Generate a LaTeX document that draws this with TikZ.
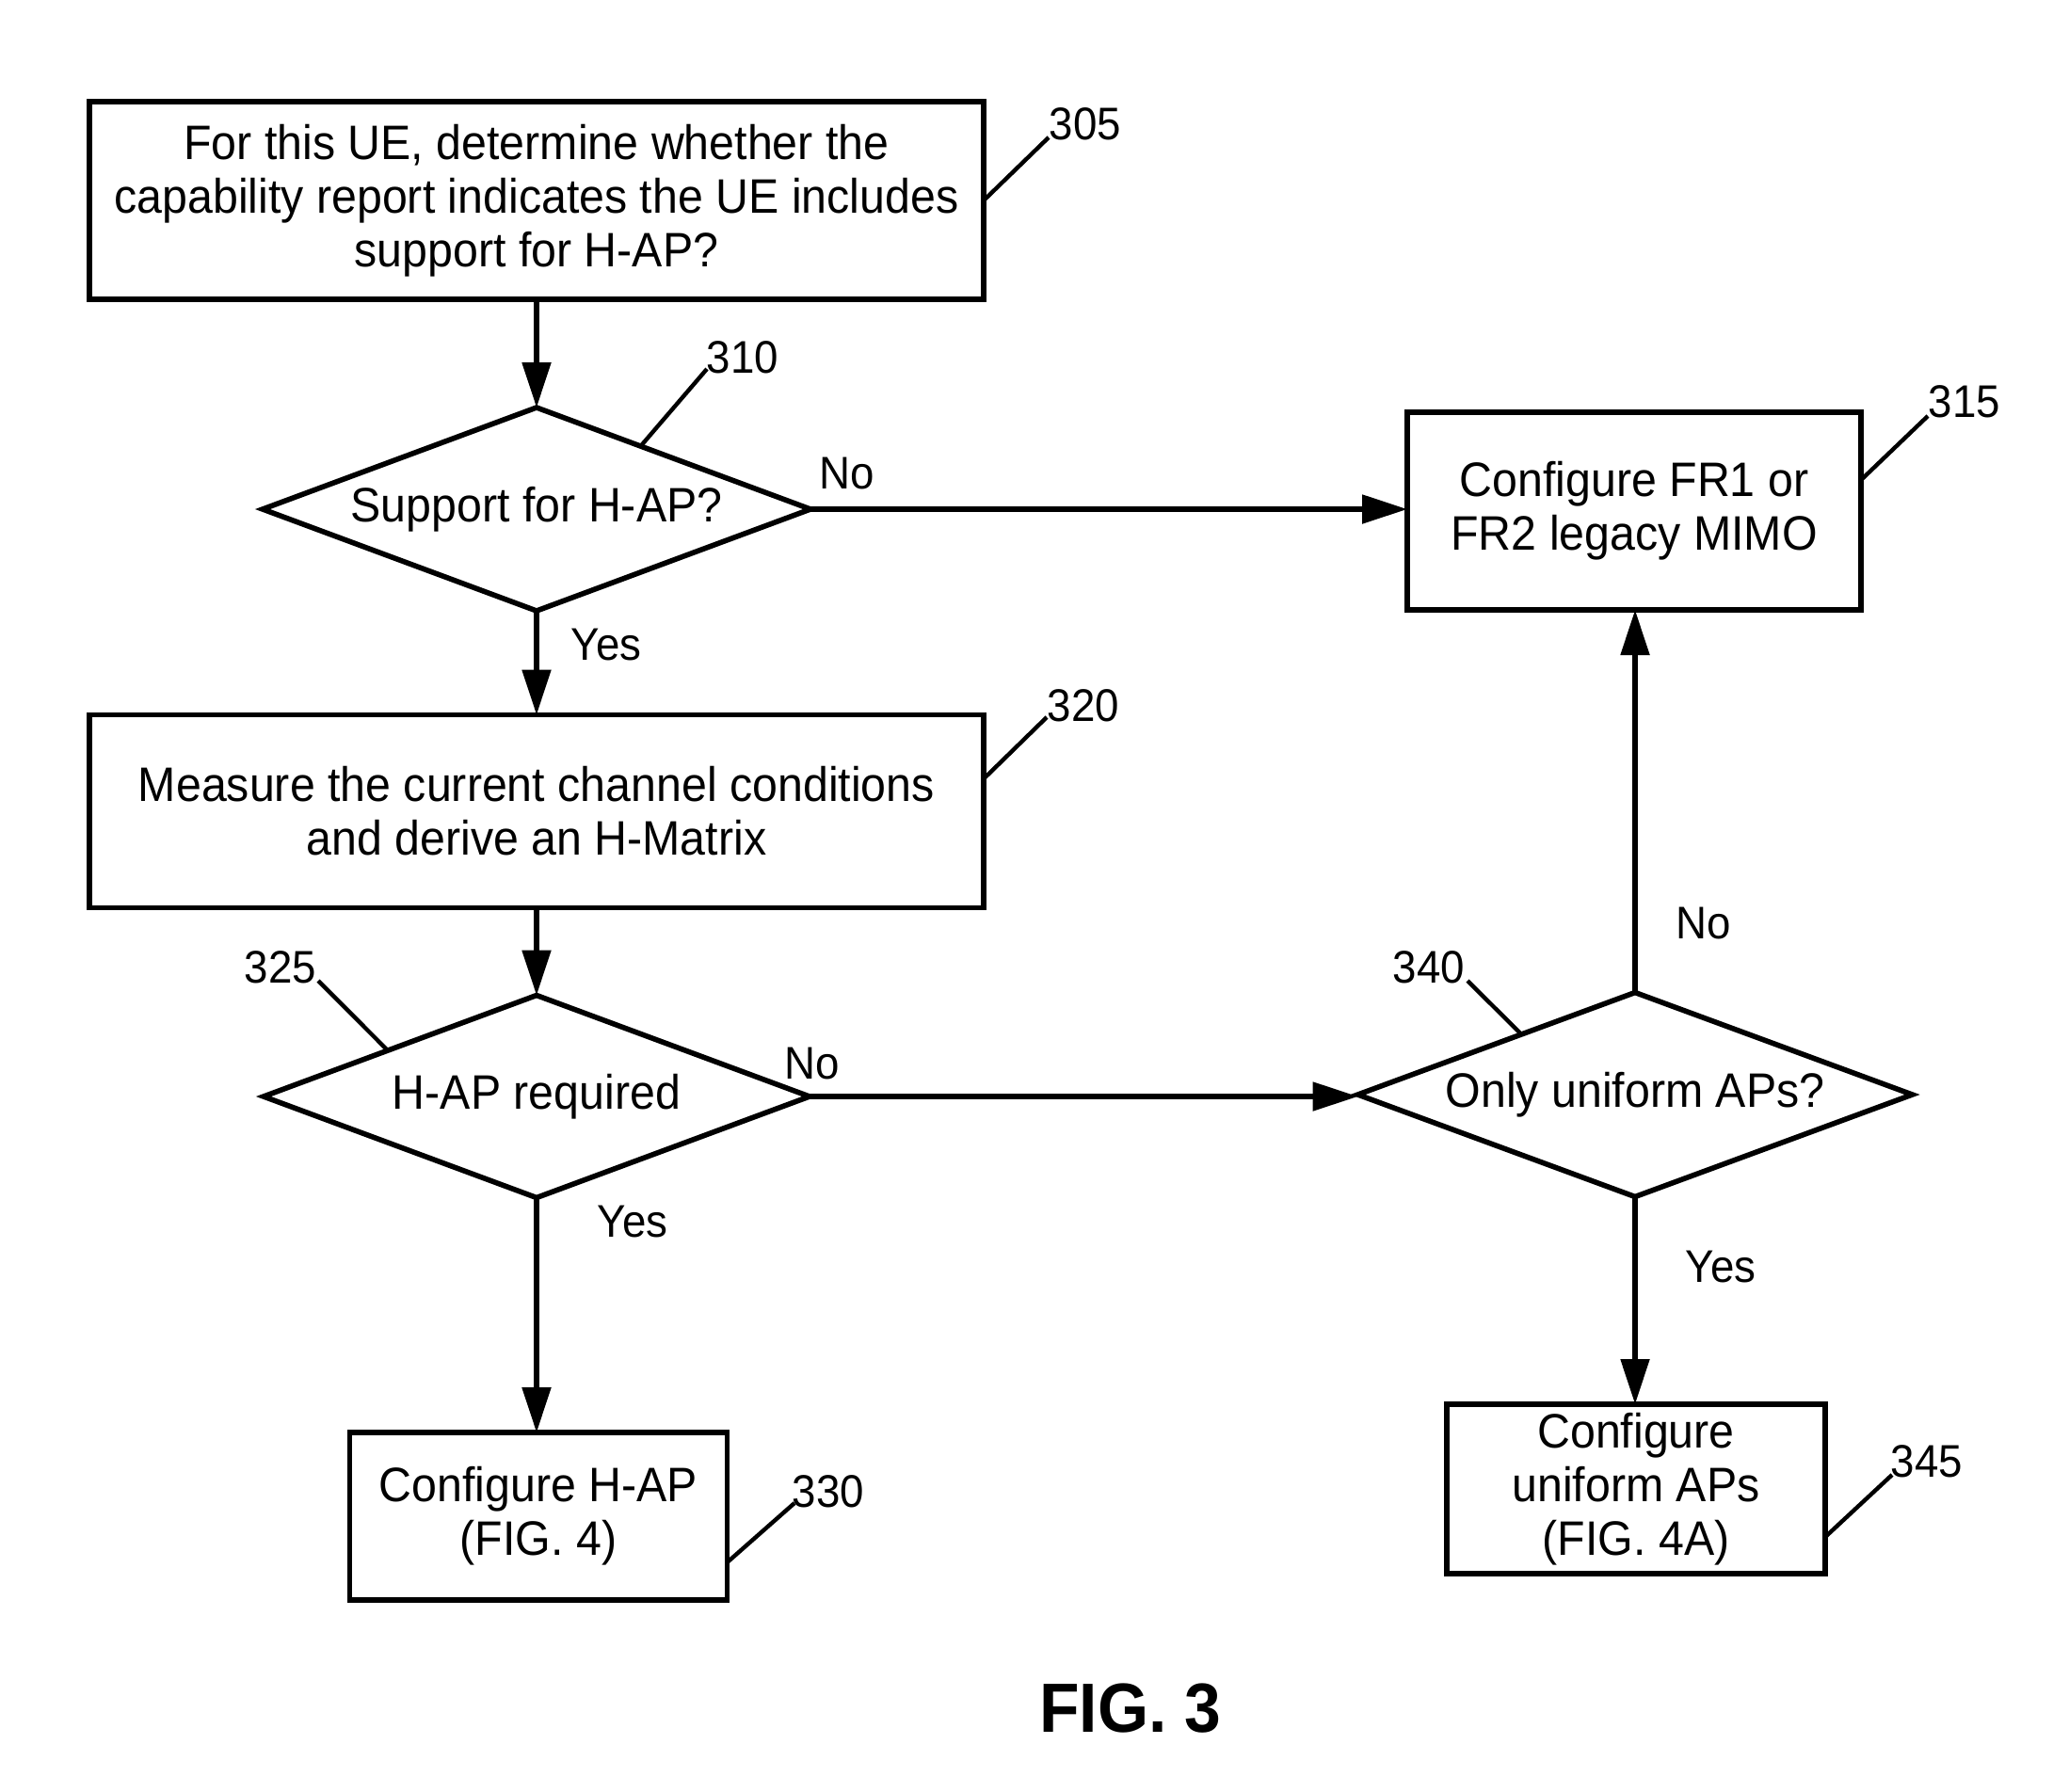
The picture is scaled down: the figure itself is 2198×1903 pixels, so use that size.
\documentclass[tikz,border=0pt]{standalone}
\usepackage{fontspec}
\setmainfont{Liberation Sans}[FakeStretch=0.94]
\usetikzlibrary{shapes.geometric,arrows.meta,calc}
\newcommand{\mainsz}{\fontsize{25.7}{28.5}\selectfont}
\newcommand{\lblsz}{\fontsize{24.3}{26}\selectfont}
\newcommand{\figsz}{\fontsize{37}{40}\selectfont\bfseries}
\begin{document}
\begin{tikzpicture}[x=0.5pt,y=-0.5pt,
  box/.style={draw, line width=2.8pt, rectangle, inner sep=0pt, outer sep=0pt, align=center, font=\mainsz},
  dec/.style={draw, line width=2.8pt, diamond, aspect=2.7, inner sep=0pt, outer sep=0pt, align=center, font=\mainsz},
  flow/.style={line width=2.6pt, -{Triangle[length=24pt,width=15pt]}},
  lead/.style={line width=2.2pt},
  lbl/.style={font=\lblsz, inner sep=0pt},
]
\fill[white] (0,0) rectangle (2198,1903);
\useasboundingbox (0,0) rectangle (2198,1903);

% nodes
\node[box, minimum width=475pt, minimum height=105pt] (n305) at (570,213)
  {For this UE, determine whether the\\capability report indicates the UE includes\\support for H-AP?};
\node[dec, minimum width=291pt, minimum height=108pt] (n310) at (570,541) {Support for H-AP?};
\node[box, minimum width=241pt, minimum height=105pt] (n315) at (1736,543) {Configure FR1 or\\FR2 legacy MIMO};
\node[box, minimum width=475pt, minimum height=102.5pt] (n320) at (570,862) {Measure the current channel conditions\\and derive an H-Matrix};
\node[dec, minimum width=290pt, minimum height=107.5pt] (n325) at (570,1165) {H-AP required};
\node[dec, minimum width=294.5pt, minimum height=108.5pt] (n340) at (1737,1163) {Only uniform APs?};
\node[box, minimum width=200.5pt, minimum height=89pt] (n330) at (572,1611) {Configure H-AP\\(FIG. 4)};
\node[box, minimum width=201pt, minimum height=90pt] (n345) at (1738,1582) {Configure\\uniform APs\\(FIG. 4A)};

% connectors
\draw[flow] (n305.south) -- (n310.north);
\draw[flow] (n310.east) -- (n310.east -| n315.west);
\draw[flow] (n310.south) -- (n320.north);
\draw[flow] (n320.south) -- (n325.north);
\draw[flow] (n325.east) -- (n325.east -| n340.west);
\draw[flow] (n325.south) -- (n325.south |- n330.north);
\draw[flow] (n340.north) -- (n340.north |- n315.south);
\draw[flow] (n340.south) -- (n340.south |- n345.north);

% branch labels
\node[lbl] (no1) at (900,503) {No};
\node[lbl] (yes1) at (644,685) {Yes};
\node[lbl] (no2) at (863,1130) {No};
\node[lbl] (yes2) at (672,1298) {Yes};
\node[lbl] (no3) at (1810,981) {No};
\node[lbl] (yes3) at (1828,1346) {Yes};

% reference numerals
\node[lbl] (r305) at (1153,132) {305};
\node[lbl] (r310) at (789,380) {310};
\node[lbl] (r315) at (2087,427) {315};
\node[lbl] (r320) at (1151,750) {320};
\node[lbl] (r325) at (298,1028) {325};
\node[lbl] (r340) at (1518,1028) {340};
\node[lbl] (r330) at (880,1585) {330};
\node[lbl] (r345) at (2047,1553) {345};

\coordinate (e305) at (1114,146);
\coordinate (e310) at (751,392);
\coordinate (e315) at (2048,442);
\coordinate (e320) at (1112,762);
\coordinate (e325) at (338,1042);
\coordinate (e340) at (1559,1042);
\coordinate (e330) at (844,1597);
\coordinate (e345) at (2010,1567);

\draw[lead] (n305.east) -- (e305);
\draw[lead] ($(n310.north)!0.38!(n310.east)$) -- (e310);
\draw[lead] ($(n315.north east)+(0,72)$) -- (e315);
\draw[lead] ($(n320.north east)+(0,68)$) -- (e320);
\draw[lead] ($(n325.north)!0.545!(n325.west)$) -- (e325);
\draw[lead] ($(n340.north)!0.41!(n340.west)$) -- (e340);
\draw[lead] ($(n330.south east)+(0,-40)$) -- (e330);
\draw[lead] ($(n345.south east)+(0,-39)$) -- (e345);

\node[font=\figsz, inner sep=0pt] (fig) at (1201,1815) {FIG. 3};
\end{tikzpicture}
\end{document}
